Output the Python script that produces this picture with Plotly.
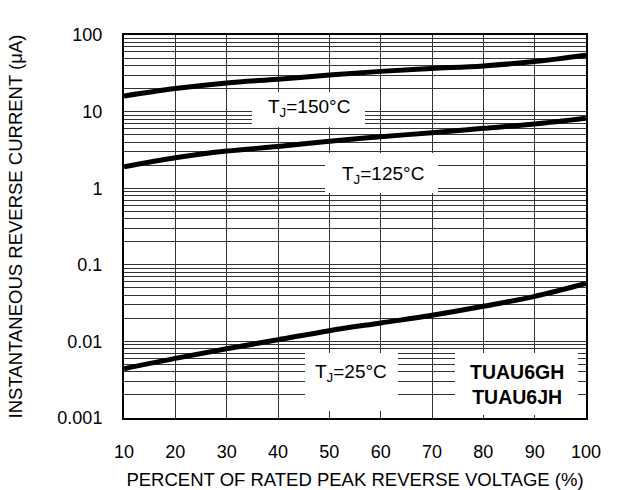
import plotly.graph_objects as go

# Data
voltage_pct = [10, 20, 30, 40, 50, 60, 70, 80, 90, 100]
tj150 = [16, 20, 23.7, 26.5, 30, 33.5, 36.5, 39.5, 45, 54.5]
tj125 = [1.9, 2.5, 3.05, 3.5, 4.1, 4.7, 5.3, 6.05, 6.9, 8.2]
tj25 = [0.0044, 0.0060, 0.0080, 0.0105, 0.0138, 0.0174, 0.0219, 0.0287, 0.0387, 0.057]

x_ticks = [10, 20, 30, 40, 50, 60, 70, 80, 90, 100]
decades = [0.001, 0.01, 0.1, 1, 10, 100]
decade_labels = ["0.001", "0.01", "0.1", "1", "10", "100"]

y_tickvals, y_ticktext = [], []
for d, lab in zip(decades, decade_labels):
    for m in range(1, 10):
        v = d * m
        if v > 100.0001:
            break
        y_tickvals.append(v)
        y_ticktext.append(lab if m == 1 else "")

FONT = "Liberation Sans, Arial, sans-serif"

fig = go.Figure()
for ys in (tj150, tj125, tj25):
    fig.add_trace(go.Scatter(x=voltage_pct, y=ys, mode="lines",
                             line=dict(color="black", width=5, shape="spline"),
                             showlegend=False, hoverinfo="skip"))

W, H = 619, 490
# Plot-area pixel geometry in the window: left 124, right 586, top 35, bottom 418
L, R, T, B = 124, 586, 35, 418
XMIN, XMAX, LYMIN, LYMAX = 10, 100, -3, 2

def dx(p):
    return XMIN + (p - L) / (R - L) * (XMAX - XMIN)

def dy(p):
    return 10 ** (LYMAX - (p - T) / (B - T) * (LYMAX - LYMIN))

def paperx(p):
    return (p - L) / (R - L)

def papery(p):
    return (B - p) / (B - T)

# White label backgrounds (hide gridlines behind the labels)
boxes = [(252, 365, 92, 127), (325, 438, 153, 193), (305, 398, 353, 411), (455, 578, 353, 415)]
shapes = []
for x0, x1, y0, y1 in boxes:
    shapes.append(dict(type="rect", xref="x", yref="y",
                       x0=dx(x0), x1=dx(x1), y0=dy(y1), y1=dy(y0),
                       fillcolor="white", line=dict(width=0), layer="between"))

annotations = [
    dict(text="T<sub>J</sub>=150°C", x=paperx(309), y=papery(108), size=19),
    dict(text="T<sub>J</sub>=125°C", x=paperx(383), y=papery(175), size=19),
    dict(text="T<sub>J</sub>=25°C", x=paperx(351), y=papery(373), size=19),
    dict(text="<b>TUAU6GH</b><br><b>TUAU6JH</b>", x=paperx(517), y=papery(384), size=19.5),
]
ann = []
for a in annotations:
    ann.append(dict(text=a["text"], x=a["x"], y=a["y"], xref="paper", yref="paper",
                    showarrow=False, font=dict(family=FONT, size=a["size"], color="black"),
                    xanchor="center", yanchor="middle"))

fig.update_layout(
    width=W, height=H,
    margin=dict(l=L, r=W - R, t=T, b=H - B, autoexpand=False),
    paper_bgcolor="white", plot_bgcolor="white",
    font=dict(family=FONT, size=18, color="black"),
    shapes=shapes, annotations=ann,
    xaxis=dict(range=[XMIN, XMAX], tickvals=x_ticks,
               showgrid=True, gridcolor="#333", gridwidth=1,
               showline=True, mirror=True, linecolor="black", linewidth=2,
               ticks="outside", ticklen=0, ticklabelstandoff=16,
               zeroline=False, automargin=False,
               title=dict(text="PERCENT OF RATED PEAK REVERSE VOLTAGE (%)",
                          font=dict(size=18.5), standoff=19)),
    yaxis=dict(type="log", range=[LYMIN, LYMAX], tickvals=y_tickvals, ticktext=y_ticktext,
               showgrid=True, gridcolor="#333", gridwidth=1,
               showline=True, mirror=True, linecolor="black", linewidth=2,
               ticks="outside", ticklen=0, ticklabelstandoff=16,
               zeroline=False, automargin=False,
               title=dict(text="INSTANTANEOUS REVERSE CURRENT (μA)",
                          font=dict(size=18.5), standoff=30)),
)

# Remove the default page margin so the 619x490 figure fills the window exactly
fig.write_html("out.html",
               config={"displayModeBar": False},
               post_script="document.body.style.margin='0';document.body.style.overflow='hidden';")
